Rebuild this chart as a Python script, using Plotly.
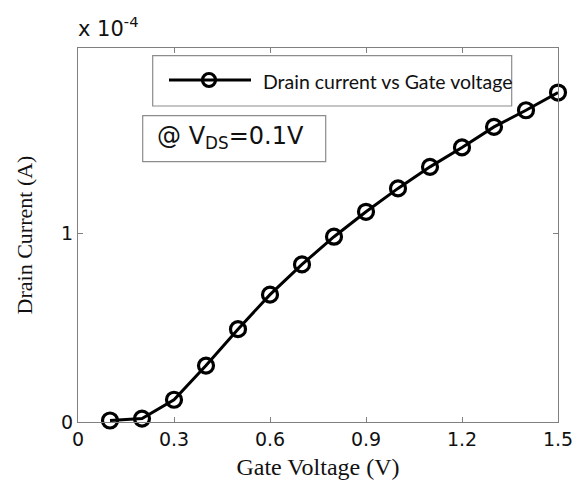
import plotly.graph_objects as go

# ---- data ----
gate_voltage = [0.1, 0.2, 0.3, 0.4, 0.5, 0.6, 0.7, 0.8, 0.9, 1.0, 1.1, 1.2, 1.3, 1.4, 1.5]
drain_current = [0.008e-4, 0.018e-4, 0.118e-4, 0.299e-4, 0.492e-4, 0.675e-4, 0.835e-4,
                 0.982e-4, 1.114e-4, 1.238e-4, 1.352e-4, 1.455e-4, 1.564e-4, 1.652e-4, 1.746e-4]
x_ticks = [0, 0.3, 0.6, 0.9, 1.2, 1.5]
x_tick_labels = ["0", "0.3", "0.6", "0.9", "1.2", "1.5"]
y_ticks = [0, 1e-4]
y_tick_labels = ["0", "1"]
series_name = "Drain current vs Gate voltage"

OFF = 8  # page body margin
W, H = 583 - OFF, 483 - OFF
L, R, T, B = 78 - OFF, 25, 48 - OFF, 61
PW, PH = W - L - R, H - T - B

def px(x):
    return (x - OFF - L) / PW

def py(y):
    return (H - B - (y - OFF)) / PH

AXC = "#808080"
BOXC = "#8c8c8c"
SANS = "DejaVu Sans, Liberation Sans, Arial, sans-serif"
SERIF = "Liberation Serif, Times New Roman, serif"

fig = go.Figure()
fig.add_trace(go.Scatter(
    x=gate_voltage, y=drain_current, mode="lines+markers", name=series_name,
    line=dict(color="black", width=3),
    marker=dict(symbol="circle-open", size=15, color="black", line=dict(width=3.2)),
    cliponaxis=False, showlegend=False,
))

shapes = [
    # legend box
    dict(type="rect", xref="paper", yref="paper", x0=px(152.7), x1=px(511.7), y0=py(106), y1=py(55.7),
         line=dict(color=BOXC, width=1.2), fillcolor="white", layer="above"),
    dict(type="line", xref="paper", yref="paper", x0=px(169), x1=px(251), y0=py(80), y1=py(80),
         line=dict(color="black", width=3), layer="above"),
    dict(type="circle", xref="paper", yref="paper", x0=px(202.5), x1=px(215.5), y0=py(86.5), y1=py(73.5),
         line=dict(color="black", width=3.2), layer="above"),
    # condition box
    dict(type="rect", xref="paper", yref="paper", x0=px(142.7), x1=px(325.7), y0=py(161.7), y1=py(115.7),
         line=dict(color=BOXC, width=1.2), fillcolor="white", layer="above"),
]

annotations = [
    dict(text=series_name, xref="paper", yref="paper", x=px(261), y=py(81), xanchor="left", yanchor="middle",
         showarrow=False, font=dict(family="Lato, Open Sans, sans-serif", size=19.5, color="#111")),
    dict(text="@ V<sub>DS</sub>=0.1V", xref="paper", yref="paper", x=px(155), y=py(137), xanchor="left",
         yanchor="middle", showarrow=False,
         font=dict(family=SANS, size=24, color="#111")),
    dict(text="x 10<sup>-4</sup>", xref="paper", yref="paper", x=px(76), y=py(27), xanchor="left",
         yanchor="middle", showarrow=False,
         font=dict(family=SANS, size=21, color="#111")),
]

fig.update_layout(
    width=W, height=H,
    margin=dict(l=L, r=R, t=T, b=B, pad=0, autoexpand=False),
    paper_bgcolor="white", plot_bgcolor="white",
    showlegend=False,
    shapes=shapes, annotations=annotations,
    font=dict(family=SANS, size=19, color="#111"),
)
fig.update_xaxes(
    range=[0, 1.5], tickvals=x_ticks, ticktext=x_tick_labels, automargin=False,
    showline=True, linecolor=AXC, linewidth=1.2, mirror="ticks",
    ticks="inside", ticklen=5, tickcolor=AXC, showgrid=False, zeroline=False,
    title=dict(text="Gate Voltage (V)", font=dict(family=SERIF, size=24), standoff=9),
)
fig.update_yaxes(
    range=[0, 1.982e-4], tickvals=y_ticks, ticktext=y_tick_labels, automargin=False,
    showline=True, linecolor=AXC, linewidth=1.2, mirror="ticks",
    ticks="inside", ticklen=5, tickcolor=AXC, showgrid=False, zeroline=False,
    title=dict(text="Drain Current (A)", font=dict(family=SERIF, size=22), standoff=22),
)

fig.write_html("out.html")
